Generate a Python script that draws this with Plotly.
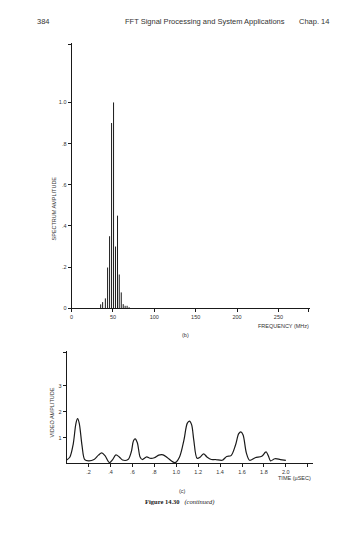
import plotly.graph_objects as go

# ---- data ----
freq_mhz = [35.1, 37.5, 40.8, 43.5, 45.9, 48.3, 50.7, 53.1, 55.5, 57.6, 60.0, 62.4, 64.7, 67.1, 69.5]
spectrum_amp = [0.019, 0.03, 0.048, 0.198, 0.35, 0.90, 1.00, 0.30, 0.45, 0.164, 0.077, 0.02, 0.012, 0.012, 0.005]

freq_tickvals = [0, 50, 100, 150, 200, 250, 286]
freq_ticktext = ["0", "50", "100", "150", "200", "250", ""]
spec_tickvals = [0, 0.2, 0.4, 0.6, 0.8, 1.0, 1.28]
spec_ticktext = ["0", ".2", ".4", ".6", ".8", "1.0", ""]

time_us = [0.0, 0.03, 0.06, 0.085, 0.10, 0.115, 0.14, 0.165, 0.2, 0.25, 0.29, 0.32, 0.35, 0.39,
           0.42, 0.45, 0.48, 0.51, 0.56, 0.59, 0.61, 0.625, 0.645, 0.67, 0.69, 0.73, 0.76, 0.8,
           0.84, 0.88, 0.92, 0.96, 0.99, 1.03, 1.07, 1.10, 1.12, 1.14, 1.16, 1.19, 1.22, 1.25,
           1.28, 1.32, 1.36, 1.42, 1.46, 1.50, 1.54, 1.57, 1.59, 1.61, 1.64, 1.67, 1.72, 1.78,
           1.81, 1.82, 1.84, 1.86, 1.9, 1.95, 2.0]
video_amp = [0.13, 0.25, 0.75, 1.55, 1.73, 1.55, 0.7, 0.15, 0.1, 0.15, 0.32, 0.41, 0.3, 0.03,
             0.15, 0.33, 0.25, 0.13, 0.15, 0.45, 0.88, 0.95, 0.8, 0.25, 0.15, 0.25, 0.2, 0.22,
             0.32, 0.33, 0.22, 0.08, 0.03, 0.25, 0.9, 1.55, 1.64, 1.5, 0.9, 0.2, 0.25, 0.37,
             0.25, 0.15, 0.15, 0.12, 0.27, 0.3, 0.7, 1.15, 1.22, 1.1, 0.4, 0.12, 0.22, 0.28,
             0.42, 0.45, 0.3, 0.1, 0.18, 0.15, 0.12]

time_tickvals = [0.2, 0.4, 0.6, 0.8, 1.0, 1.2, 1.4, 1.6, 1.8, 2.0, 2.2]
time_ticktext = [".2", ".4", ".6", ".8", "1.0", "1.2", "1.4", "1.6", "1.8", "2.0", ""]
video_tickvals = [1, 2, 3, 4.3]
video_ticktext = ["1", "2", "3", ""]

W, H = 360, 538
def px(x):
    return x / W
def py(y):
    return 1 - y / H

INK = "#1a1a1a"
TXT = "#333333"
SANS = "Liberation Sans, Arial, sans-serif"
SERIF = "Liberation Serif, Times New Roman, serif"

# spectral lines drawn as thin stems (built from the data arrays)
stem_x, stem_y = [], []
for f, a in zip(freq_mhz, spectrum_amp):
    stem_x += [f, f, None]
    stem_y += [0, a, None]

fig = go.Figure()
fig.add_trace(go.Scatter(x=stem_x, y=stem_y, mode="lines", line=dict(color=INK, width=1),
                         xaxis="x", yaxis="y", showlegend=False, hoverinfo="skip"))
fig.add_trace(go.Scatter(x=time_us, y=video_amp, mode="lines",
                         line=dict(color=INK, width=1.2, shape="spline", smoothing=0.9),
                         xaxis="x2", yaxis="y2", showlegend=False))

axis_common = dict(showgrid=False, zeroline=False, showline=True, linecolor=INK, linewidth=1,
                   ticks="outside", ticklen=3, tickwidth=1, tickcolor=INK,
                   tickfont=dict(family=SANS, size=5.5, color=TXT))

fig.update_layout(
    width=W, height=H, margin=dict(l=0, r=0, t=0, b=0),
    paper_bgcolor="white", plot_bgcolor="white",
    xaxis=dict(domain=[px(70), px(310)], range=[0, 288.5], anchor="y",
               tickmode="array", tickvals=freq_tickvals, ticktext=freq_ticktext, **axis_common),
    yaxis=dict(domain=[py(310), py(43)], range=[0, 1.29], anchor="x",
               tickmode="array", tickvals=spec_tickvals, ticktext=spec_ticktext, **axis_common),
    xaxis2=dict(domain=[px(65), px(313)], range=[0, 2.25], anchor="y2",
                tickmode="array", tickvals=time_tickvals, ticktext=time_ticktext, **axis_common),
    yaxis2=dict(domain=[py(466), py(353)], range=[0, 4.35], anchor="x2",
                tickmode="array", tickvals=video_tickvals, ticktext=video_ticktext, **axis_common),
)

def ann(text, x, y, size=6, xanchor="center", font=SANS, angle=0, color=TXT):
    fig.add_annotation(text=text, x=px(x), y=py(y), xref="paper", yref="paper",
                       showarrow=False, xanchor=xanchor, yanchor="middle", textangle=angle,
                       font=dict(family=font, size=size, color=color))

# page header
ann("384", 33, 22, size=7.5, xanchor="left")
ann("FFT Signal Processing and System Applications", 122, 22, size=7.5, xanchor="left")
ann("Chap. 14", 297, 22, size=7.5, xanchor="left")

# top chart texts
ann("SPECTRUM AMPLITUDE", 52, 210, size=5.5, angle=-90)
ann("FREQUENCY (MHz)", 311, 328, size=5.5, xanchor="right")
ann("(b)", 185, 337, size=5.5)

# bottom chart texts
ann("VIDEO AMPLITUDE", 50, 415, size=5.5, angle=-90)
ann("TIME (µSEC)", 313, 481, size=5.5, xanchor="right")
ann("(c)", 182, 494, size=5.5)
ann("<b>Figure 14.30</b>   <i>(continued)</i>", 142, 505, size=6.5, xanchor="left", font=SERIF, color=INK)

fig.write_html("out.html", config={"displayModeBar": False},
               post_script="document.body.style.margin='0px';")
